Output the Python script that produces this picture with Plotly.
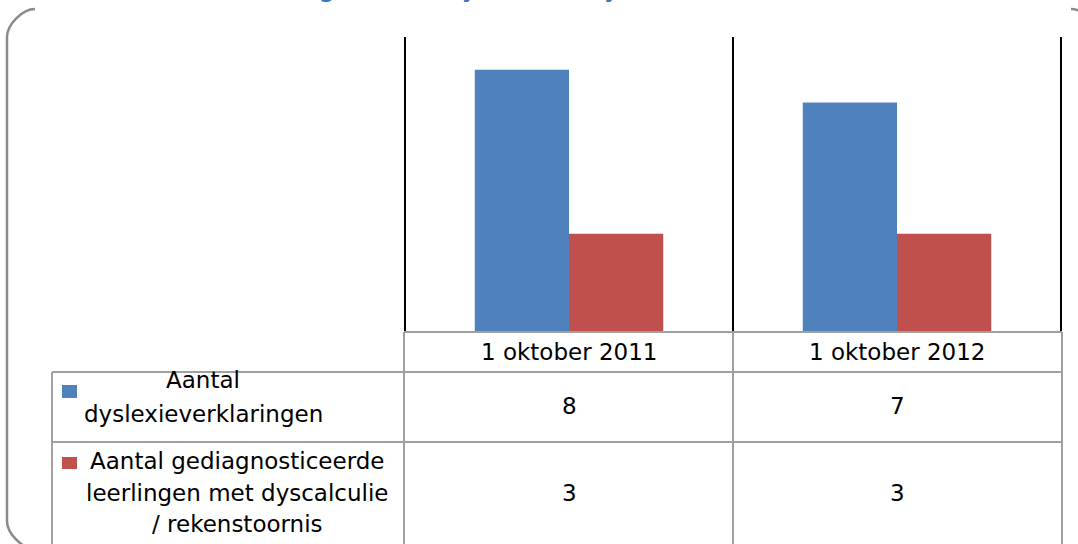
import plotly.graph_objects as go

W, H = 1078, 544

categories = ["1 oktober 2011", "1 oktober 2012"]
dyslexie = [8, 7]
dyscalculie = [3, 3]
series_names = ["Aantal<br>dyslexieverklaringen",
                "Aantal gediagnosticeerde<br>leerlingen met dyscalculie<br>/ rekenstoornis"]
series_colors = ["#4F81BD", "#C0504D"]
title_text = "Aantal leerlingen met dyslexie / dyscalculie"


def px(x):
    return x / W


def py(y):
    return 1 - y / H


FONT = "DejaVu Sans"
GRID = "#a0a0a0"

fig = go.Figure()
for name, vals, col in zip(series_names, [dyslexie, dyscalculie], series_colors):
    fig.add_trace(go.Bar(x=categories, y=vals, name=name.replace("<br>", " "),
                         marker=dict(color=col, line=dict(width=0))))

shapes = []
# rounded outer frame; its top edge is hidden behind the title
l, t, r, b, rad = 7, 9, 1099, 549, 28
k = rad * 0.45
path = (f"M {px(l + rad)},{py(t)} "
        f"C {px(l + rad - k)},{py(t)} {px(l)},{py(t + rad - k)} {px(l)},{py(t + rad)} "
        f"L {px(l)},{py(b - rad)} "
        f"C {px(l)},{py(b - rad + k)} {px(l + rad - k)},{py(b)} {px(l + rad)},{py(b)} "
        f"L {px(r - rad)},{py(b)} "
        f"C {px(r - rad + k)},{py(b)} {px(r)},{py(b - rad + k)} {px(r)},{py(b - rad)} "
        f"L {px(r)},{py(t + rad)} "
        f"C {px(r)},{py(t + rad - k)} {px(r - rad + k)},{py(t)} {px(r - rad)},{py(t)}")
shapes.append(dict(type="path", xref="paper", yref="paper", path=path,
                   line=dict(color="#8a8a8a", width=2.5), layer="below"))

# black vertical separators in plot area
for xv in [-0.5, 0.5, 1.5]:
    shapes.append(dict(type="line", xref="x", yref="paper", x0=xv, x1=xv,
                       y0=py(332), y1=py(37), line=dict(color="black", width=2)))

# data table grid
tbl_x = [404, 733, 1062]
for xv in tbl_x:
    shapes.append(dict(type="line", xref="paper", yref="paper", x0=px(xv), x1=px(xv),
                       y0=py(332), y1=py(560), line=dict(color=GRID, width=2)))
shapes.append(dict(type="line", xref="paper", yref="paper", x0=px(52), x1=px(52),
                   y0=py(372), y1=py(560), line=dict(color=GRID, width=2)))
shapes.append(dict(type="line", xref="paper", yref="paper", x0=px(404), x1=px(1062),
                   y0=py(332), y1=py(332), line=dict(color=GRID, width=2)))
for yv in [372, 442, 546]:
    shapes.append(dict(type="line", xref="paper", yref="paper", x0=px(52), x1=px(1062),
                       y0=py(yv), y1=py(yv), line=dict(color=GRID, width=2)))

# legend keys
key_y = [(385, 398), (457, 469)]
for col, (y0, y1) in zip(series_colors, key_y):
    shapes.append(dict(type="rect", xref="paper", yref="paper", x0=px(62), x1=px(77),
                       y0=py(y1), y1=py(y0), fillcolor=col, line=dict(width=0)))

annotations = []
txt = dict(family=FONT, size=23, color="black")
for c in categories:
    annotations.append(dict(x=c, xref="x", y=py(352), yref="paper", text=c,
                            showarrow=False, font=txt, xanchor="center", yanchor="middle"))
row_y = [406, 493]
for vals, yv in zip([dyslexie, dyscalculie], row_y):
    for c, v in zip(categories, vals):
        annotations.append(dict(x=c, xref="x", y=py(yv), yref="paper", text=str(v),
                                showarrow=False, font=txt, xanchor="center", yanchor="middle"))

label_cx = [203, 237]
label_lines_y = [[380, 414], [461, 493, 524]]
for name, cx, ys in zip(series_names, label_cx, label_lines_y):
    for line, yv in zip(name.split("<br>"), ys):
        annotations.append(dict(x=px(cx), xref="paper", y=py(yv), yref="paper", text=line,
                                showarrow=False, font=txt, xanchor="center", yanchor="middle"))

# title, cut off by the top of the page
annotations.append(dict(x=px(130), xref="paper", y=py(-13), yref="paper", text=title_text,
                        showarrow=False, xanchor="left", yanchor="middle",
                        font=dict(family=FONT, size=28, color="#3A78C3")))

fig.update_layout(
    width=W, height=H,
    margin=dict(l=0, r=0, t=0, b=0),
    paper_bgcolor="white", plot_bgcolor="white",
    barmode="group", bargap=0.4255, bargroupgap=0,
    showlegend=False,
    xaxis=dict(domain=[px(404), px(1062)], showticklabels=False, showgrid=False,
               zeroline=False, showline=False, fixedrange=True),
    yaxis=dict(domain=[py(332), py(37)], range=[0, 9], visible=False, fixedrange=True),
    shapes=shapes, annotations=annotations,
)

fig.write_html("out.html", config={"displayModeBar": False},
               post_script="document.body.style.margin='0';document.body.style.overflow='hidden';")
